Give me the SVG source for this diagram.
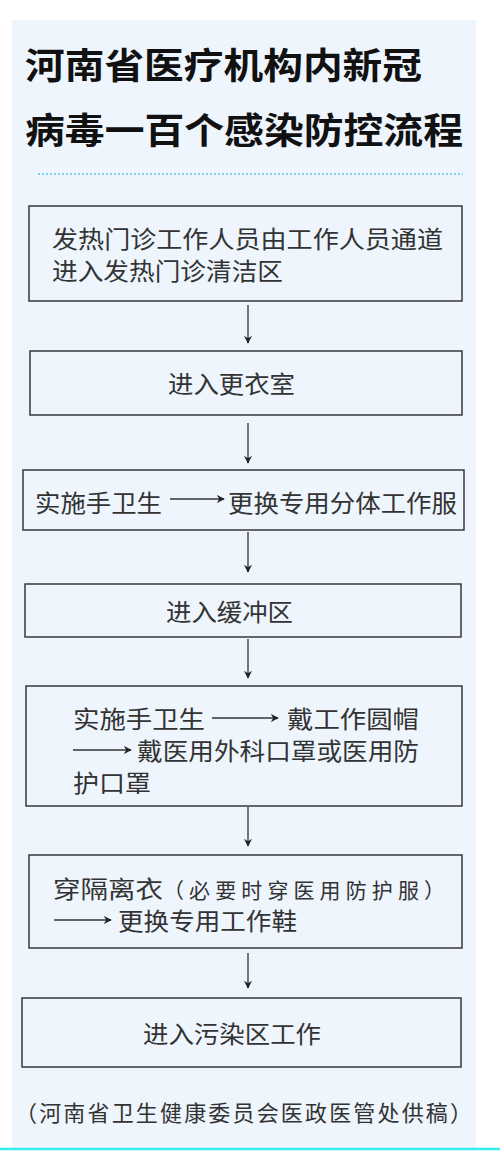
<svg xmlns="http://www.w3.org/2000/svg" width="500" height="1154" viewBox="0 0 500 1154">
<defs>
<style>
.panel{fill:#EEF5FD}
.box{fill:none;stroke:#2b2b2b;stroke-width:1.4}
.t{font-family:"Noto Sans CJK SC","Liberation Sans",sans-serif;font-size:24px;fill:#333}
.title{font-family:"Noto Sans CJK SC","Liberation Sans",sans-serif;font-size:36px;font-weight:bold;fill:#111}
.kai{font-family:"Noto Sans CJK SC","Liberation Serif",serif;font-size:21px;fill:#333}
.foot{font-family:"Noto Sans CJK SC","Liberation Serif",serif;font-size:22px;fill:#333}
.conn{stroke:#333;stroke-width:1.3;fill:none;marker-end:url(#ah)}
.inl{stroke:#333;stroke-width:1.3;fill:none;marker-end:url(#ah)}
</style>
<marker id="ah" viewBox="0 0 10 10" refX="9" refY="5" markerWidth="8" markerHeight="8" markerUnits="userSpaceOnUse" orient="auto">
<path d="M0,0 L10,5 L0,10 L3,5 z" fill="#222"/>
</marker>
</defs>
<rect x="0" y="0" width="500" height="1154" fill="#ffffff"/>
<rect class="panel" x="12" y="20" width="464" height="1128"/>
<line x1="0" y1="1149" x2="500" y2="1149" stroke="#35EDEF" stroke-width="2.5"/>
<g id="title">
<text class="title" x="25" y="79" textLength="397" lengthAdjust="spacingAndGlyphs">河南省医疗机构内新冠</text>
<text class="title" x="25" y="144" textLength="438" lengthAdjust="spacingAndGlyphs">病毒一百个感染防控流程</text>
<line x1="38" y1="174" x2="463" y2="174" stroke="#5BC4EE" stroke-width="1.5" stroke-dasharray="2,2"/>
</g>
<g id="connectors">
<line class="conn" x1="248" y1="305" x2="248" y2="343"/>
<line class="conn" x1="248" y1="423" x2="248" y2="463"/>
<line class="conn" x1="248" y1="532" x2="248" y2="572"/>
<line class="conn" x1="248" y1="639" x2="248" y2="678"/>
<line class="conn" x1="248" y1="807" x2="248" y2="846"/>
<line class="conn" x1="248" y1="953" x2="248" y2="988"/>
</g>
<g id="n1">
<rect class="box" x="29" y="206" width="433" height="95"/>
<text class="t" x="52" y="248" textLength="391" lengthAdjust="spacingAndGlyphs">发热门诊工作人员由工作人员通道</text>
<text class="t" x="52" y="280" textLength="231" lengthAdjust="spacingAndGlyphs">进入发热门诊清洁区</text>
</g>
<g id="n2">
<rect class="box" x="30" y="351" width="432" height="64"/>
<text class="t" x="168" y="393" textLength="127" lengthAdjust="spacingAndGlyphs">进入更衣室</text>
</g>
<g id="n3">
<rect class="box" x="23" y="470" width="441" height="60"/>
<text class="t" x="35" y="512" textLength="127" lengthAdjust="spacingAndGlyphs">实施手卫生</text>
<line class="inl" x1="170" y1="499" x2="224" y2="499"/>
<text class="t" x="228" y="512" textLength="229" lengthAdjust="spacingAndGlyphs">更换专用分体工作服</text>
</g>
<g id="n4">
<rect class="box" x="25" y="584" width="436" height="53"/>
<text class="t" x="166" y="621" textLength="127" lengthAdjust="spacingAndGlyphs">进入缓冲区</text>
</g>
<g id="n5">
<rect class="box" x="26" y="686" width="436" height="120"/>
<text class="t" x="73" y="728" textLength="132" lengthAdjust="spacingAndGlyphs">实施手卫生</text>
<line class="inl" x1="212" y1="718" x2="278" y2="718"/>
<text class="t" x="287" y="728" textLength="132" lengthAdjust="spacingAndGlyphs">戴工作圆帽</text>
<line class="inl" x1="73" y1="750" x2="131" y2="750"/>
<text class="t" x="137" y="760" textLength="282" lengthAdjust="spacingAndGlyphs">戴医用外科口罩或医用防</text>
<text class="t" x="73" y="792" textLength="78" lengthAdjust="spacingAndGlyphs">护口罩</text>
</g>
<g id="n6">
<rect class="box" x="29" y="855" width="433" height="93"/>
<text class="t" x="53" y="898" textLength="110" lengthAdjust="spacingAndGlyphs">穿隔离衣</text>
<text class="kai" x="163" y="898" textLength="282" lengthAdjust="spacing">（必要时穿医用防护服）</text>
<line class="inl" x1="54" y1="920" x2="111" y2="920"/>
<text class="t" x="118" y="930" textLength="179" lengthAdjust="spacingAndGlyphs">更换专用工作鞋</text>
</g>
<g id="n7">
<rect class="box" x="22" y="998" width="439" height="69"/>
<text class="t" x="143" y="1043" textLength="178" lengthAdjust="spacingAndGlyphs">进入污染区工作</text>
</g>
<g id="footer">
<text class="foot" x="15" y="1121" textLength="457" lengthAdjust="spacing">（河南省卫生健康委员会医政医管处供稿）</text>
</g>
</svg>
